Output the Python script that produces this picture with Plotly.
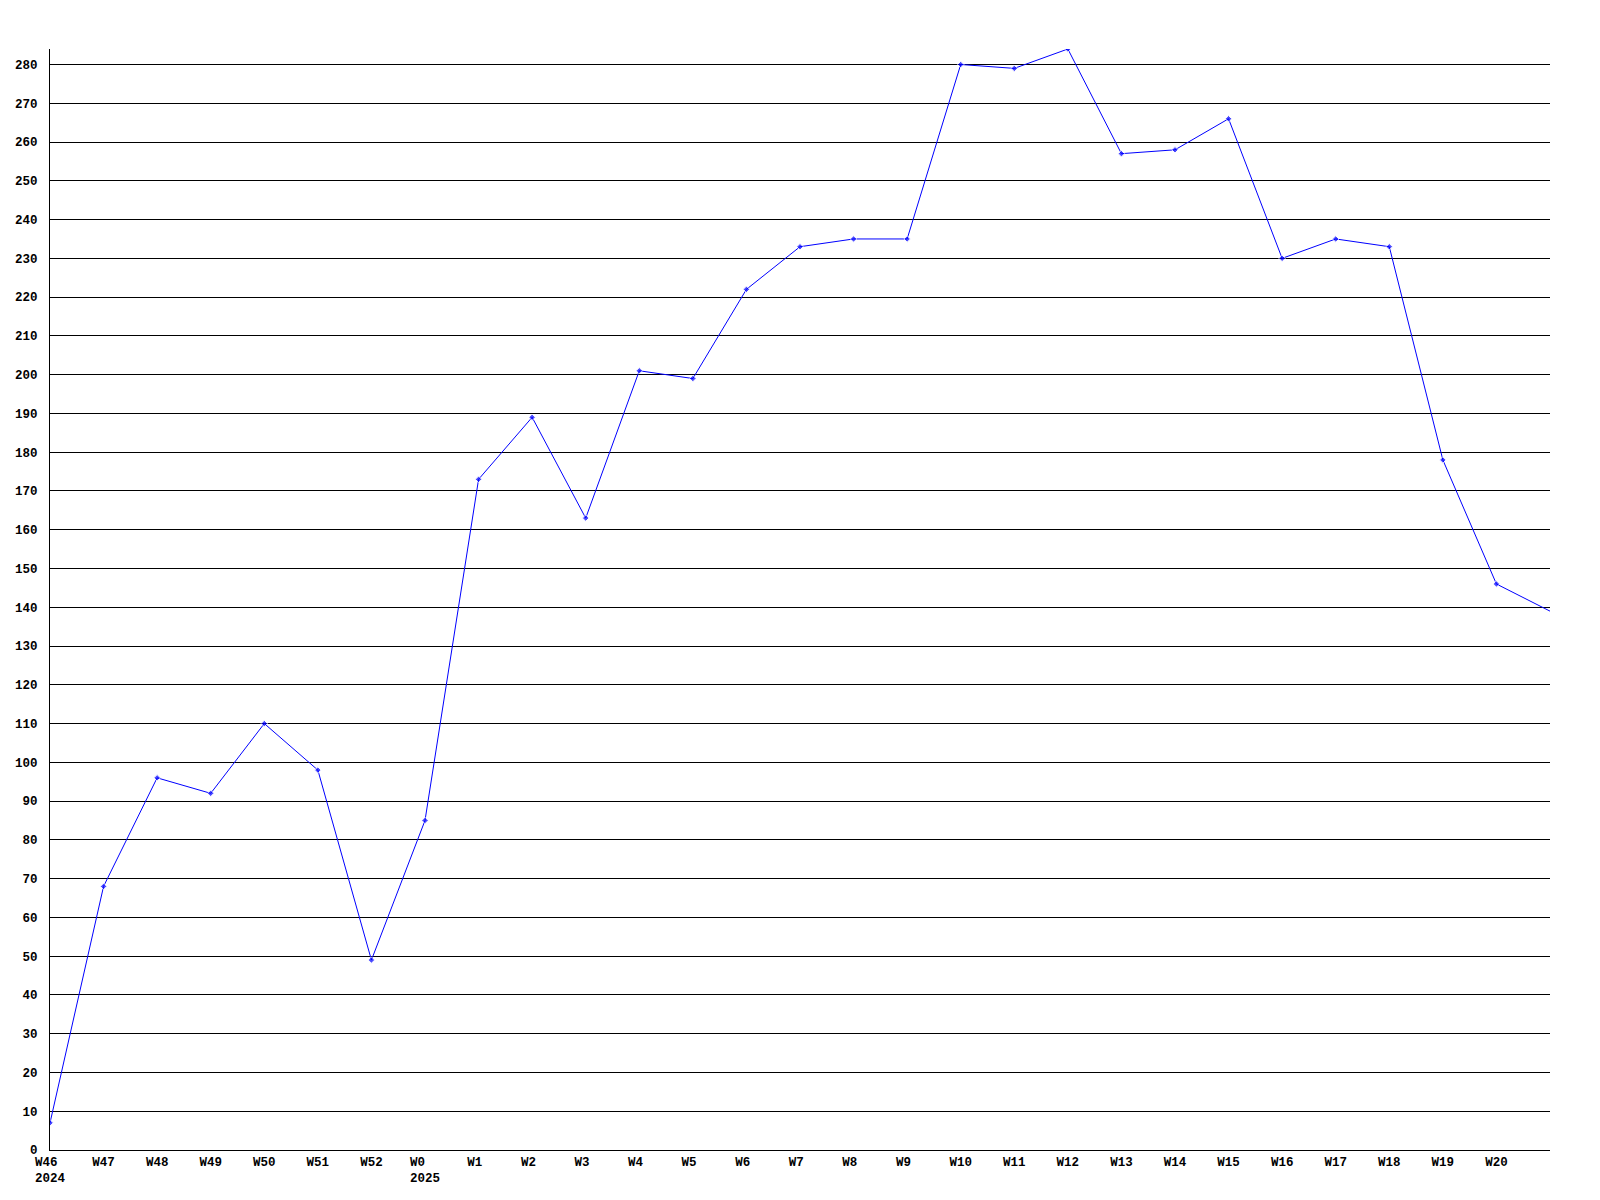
import plotly.graph_objects as go

weeks = ["W46", "W47", "W48", "W49", "W50", "W51", "W52", "W0", "W1", "W2", "W3", "W4", "W5",
         "W6", "W7", "W8", "W9", "W10", "W11", "W12", "W13", "W14", "W15", "W16", "W17", "W18",
         "W19", "W20", "W21"]
year_labels = {"W46": "2024", "W0": "2025"}
values = [7, 68, 96, 92, 110, 98, 49, 85, 173, 189, 163, 201, 199,
          222, 233, 235, 235, 280, 279, 284, 257, 258, 266, 230, 235, 233,
          178, 146, 139]
y_ticks = list(range(0, 290, 10))

NBSP = "\u00a0"
x_idx = list(range(len(weeks)))
shown = weeks[:-1]
ticktext = []
for w in shown:
    if w in year_labels:
        yr = year_labels[w]
        ticktext.append(w.ljust(len(yr), NBSP) + "<br>" + yr)
    else:
        ticktext.append(w.ljust(3, NBSP))
marker_sizes = [5] * (len(weeks) - 1) + [0]

fig = go.Figure()
fig.add_trace(go.Scatter(
    x=x_idx, y=values, mode="lines+markers",
    line=dict(color="#0000ff", width=1),
    marker=dict(color="#0000ff", size=marker_sizes, symbol="diamond"),
    cliponaxis=True, showlegend=False,
))

font = dict(family="Liberation Mono, DejaVu Sans Mono, monospace", size=12.5, color="black", weight="bold")
fig.update_layout(
    width=1600, height=1200,
    margin=dict(l=42, r=58, t=41, b=58),
    paper_bgcolor="white", plot_bgcolor="white",
    font=font,
    xaxis=dict(range=[0, len(weeks) - 1], tickvals=x_idx[:-1], ticktext=ticktext,
               showgrid=False, zeroline=False, showline=True, linecolor="black", linewidth=1,
               ticks="", tickfont=font, ticklabelstandoff=0, automargin=False),
    yaxis=dict(range=[0, 284], tickvals=y_ticks, ticktext=[str(v) for v in y_ticks],
               showgrid=True, gridcolor="black", gridwidth=1, zeroline=False,
               showline=True, linecolor="black", linewidth=1, ticks="",
               tickfont=font, ticklabelstandoff=9, automargin=False),
)
fig.write_html("out.html")
